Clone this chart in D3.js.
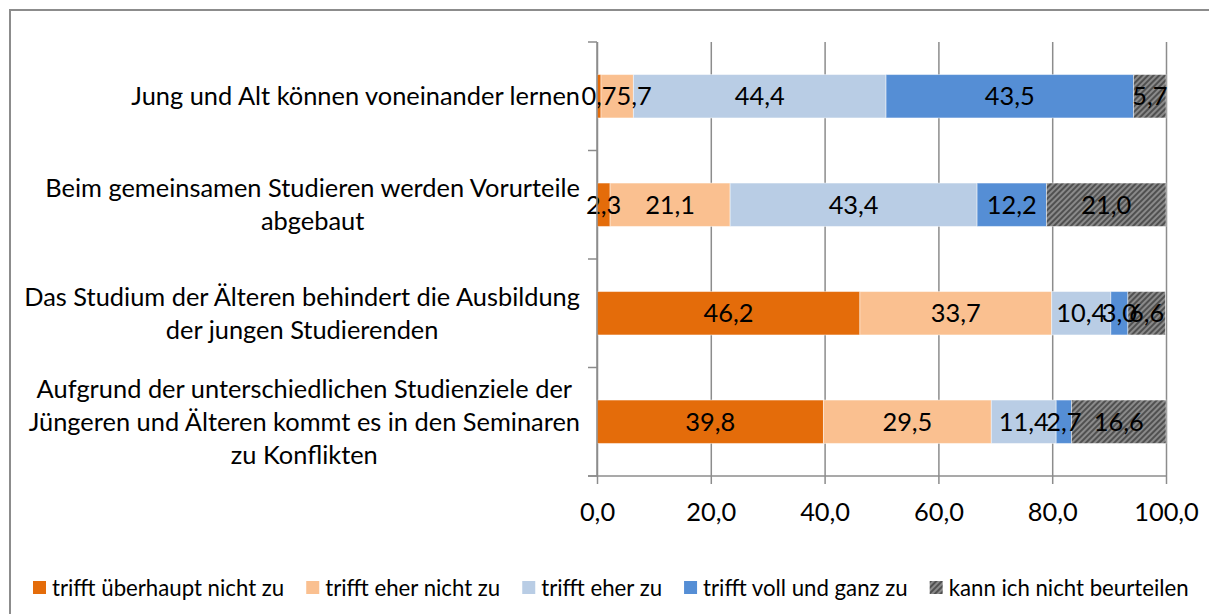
<!DOCTYPE html>
<html>
<head>
<meta charset="utf-8">
<script src="https://cdn.jsdelivr.net/npm/d3@7"></script>
<style>
  html, body { margin: 0; padding: 0; background: #fff; }
  svg { display: block; font-family: Lato, "Open Sans", sans-serif; }
</style>
</head>
<body>
<svg id="chart" width="1209" height="614"></svg>
<script>
// ---- data ----
const categories = [
  ["Jung und Alt können voneinander lernen"],
  ["Beim gemeinsamen Studieren werden Vorurteile", "abgebaut"],
  ["Das Studium der Älteren behindert die Ausbildung", "der jungen Studierenden"],
  ["Aufgrund der unterschiedlichen Studienziele der", "Jüngeren und Älteren kommt es in den Seminaren", "zu Konflikten"]
];
const seriesNames = ["trifft überhaupt nicht zu", "trifft eher nicht zu", "trifft eher zu", "trifft voll und ganz zu", "kann ich nicht beurteilen"];
const s1 = [0.7, 2.3, 46.2, 39.8];
const s2 = [5.7, 21.1, 33.7, 29.5];
const s3 = [44.4, 43.4, 10.4, 11.4];
const s4 = [43.5, 12.2, 3.0, 2.7];
const s5 = [5.7, 21.0, 6.6, 16.6];
const xTicks = [0, 20, 40, 60, 80, 100];
const colors = ["#E46C0A", "#FAC090", "#B9CDE5", "#558ED5", "url(#hatch)"];

const series = [s1, s2, s3, s4, s5];
const fmt = d3.formatLocale({decimal: ",", thousands: ".", grouping: [3], currency: ["", "€"]}).format(".1f");

const svg = d3.select("#chart");

// pattern
const defs = svg.append("defs");
const pat = defs.append("pattern").attr("id", "hatch").attr("patternUnits", "userSpaceOnUse")
  .attr("width", 4).attr("height", 4).attr("patternTransform", "rotate(45)");
pat.append("rect").attr("width", 4).attr("height", 4).attr("fill", "#8a8a8a");
pat.append("rect").attr("width", 2).attr("height", 4).attr("fill", "#505050");

// outer frame
svg.append("rect").attr("x", 10).attr("y", 10).attr("width", 1220).attr("height", 620)
  .attr("fill", "none").attr("stroke", "#8c8c8c").attr("stroke-width", 2);

// font fitting helper
function fitSize(text, width, family) {
  const t = svg.append("text").attr("font-family", family).attr("font-size", 100).text(text);
  const w = t.node().getComputedTextLength();
  t.remove();
  return 100 * width / w;
}
const fam = "Lato";
const catSize = fitSize("Jung und Alt können voneinander lernen", 449, fam);
const legSize = fitSize("kann ich nicht beurteilen", 240, fam);

const x = d3.scaleLinear().domain([0, 100]).range([597, 1166]);
const y = d3.scaleBand().domain(d3.range(categories.length)).range([42, 476]).paddingInner(0.6).paddingOuter(0.3);

// gridlines
const grid = svg.append("g").attr("transform", "translate(0,476)")
  .call(d3.axisBottom(x).tickValues(xTicks).tickSize(-434).tickFormat(""));
grid.select(".domain").remove();
grid.selectAll("line").attr("stroke", "#8c8c8c").attr("stroke-width", 1.5);

// stacked bars
const stackData = categories.map((c, i) => {
  let acc = 0;
  return series.map((s, j) => { const v = s[i]; const r = {i, j, x0: acc, x1: acc + v, v}; acc += v; return r; });
});
const rows = svg.append("g").selectAll("g").data(stackData).join("g");
rows.selectAll("rect").data(d => d).join("rect")
  .attr("x", d => x(d.x0)).attr("width", d => x(d.x1) - x(d.x0))
  .attr("y", d => y(d.i)).attr("height", y.bandwidth())
  .attr("fill", d => colors[d.j])
  .attr("stroke", "#ffffff").attr("stroke-opacity", 0.45).attr("stroke-width", 1);

// left axis
const yEdges = d3.range(categories.length + 1).map(k => 42 + k * y.step());
svg.append("line").attr("x1", 597).attr("x2", 597).attr("y1", 42).attr("y2", 476).attr("stroke", "#8c8c8c").attr("stroke-width", 1.5);
svg.append("g").selectAll("line").data(yEdges).join("line")
  .attr("x1", 588).attr("x2", 597).attr("y1", d => d).attr("y2", d => d)
  .attr("stroke", "#8c8c8c").attr("stroke-width", 1.5);

// bottom axis
const xAxis = svg.append("g").attr("transform", "translate(0,476)")
  .call(d3.axisBottom(x).tickValues(xTicks).tickSize(8).tickSizeOuter(0).tickPadding(19).tickFormat(fmt));
xAxis.select(".domain").attr("d", "M588,0H1166").attr("stroke", "#8c8c8c").attr("stroke-width", 1.5);
xAxis.selectAll(".tick line").attr("stroke", "#8c8c8c").attr("stroke-width", 1.5);
xAxis.selectAll(".tick text").attr("font-family", fam).attr("font-size", catSize).attr("fill", "#000");

// data labels (centered; shift right when heavily overlapping the previous one)
rows.each(function(row) {
  const g = d3.select(this);
  let prevRight = -Infinity;
  row.forEach(d => {
    const t = g.append("text").attr("font-family", fam).attr("font-size", catSize)
      .attr("fill", "#000").attr("text-anchor", "middle")
      .attr("y", y(d.i) + y.bandwidth() / 2).attr("dy", "0.35em").text(fmt(d.v));
    const w = t.node().getComputedTextLength();
    let cx = (x(d.x0) + x(d.x1)) / 2;
    if (prevRight - (cx - w / 2) > w * 0.3) cx = prevRight + w / 2;
    t.attr("x", cx);
    prevRight = cx + w / 2;
  });
});

// category labels
const lineH = 33;
categories.forEach((lines, i) => {
  const g = svg.append("g");
  const texts = lines.map((l, k) => g.append("text").attr("font-family", fam).attr("font-size", catSize)
    .attr("fill", "#000").attr("text-anchor", "middle")
    .attr("y", y(i) + y.bandwidth() / 2 + (k - (lines.length - 1) / 2) * lineH).attr("dy", "0.35em").text(l));
  const maxW = d3.max(texts, t => t.node().getComputedTextLength());
  texts.forEach(t => t.attr("x", 580 - maxW / 2));
});

// legend
const leg = svg.append("g");
let lx = 33;
seriesNames.forEach((name, j) => {
  leg.append("rect").attr("x", lx).attr("y", 581).attr("width", 13).attr("height", 13).attr("fill", colors[j]);
  const t = leg.append("text").attr("x", lx + 19).attr("y", 588).attr("dy", "0.35em")
    .attr("font-family", fam).attr("font-size", legSize).attr("fill", "#000").text(name);
  lx += 19 + t.node().getComputedTextLength() + 22;
});
</script>
</body>
</html>
